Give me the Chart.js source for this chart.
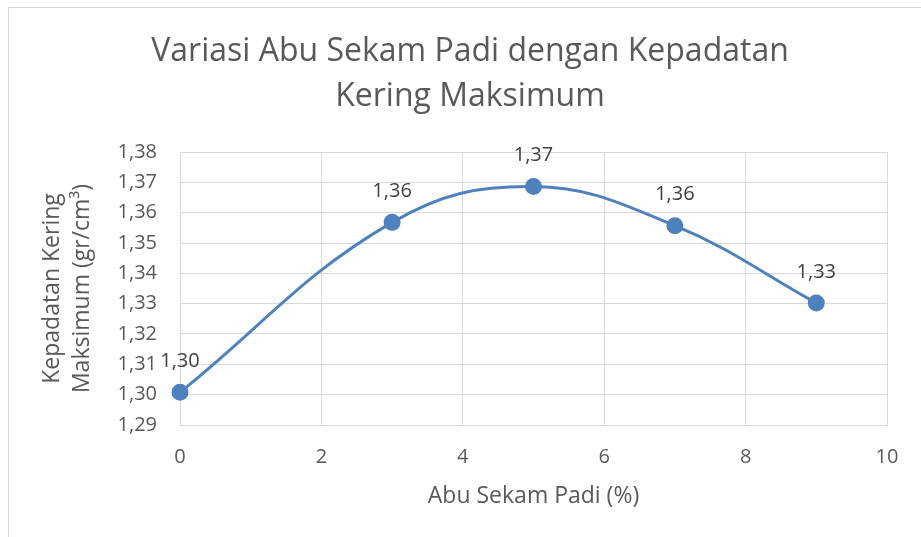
<!DOCTYPE html>
<html>
<head>
<meta charset="utf-8">
<script src="https://cdn.jsdelivr.net/npm/chart.js@4"></script>
<style>
  html, body { margin: 0; padding: 0; background: #fff; }
  #wrap { position: relative; width: 921px; height: 537px; overflow: hidden; }
  #frame { position: absolute; left: 8px; top: 7px; width: 1000px; height: 600px; border: 1px solid #d9d9d9; }
  canvas { position: absolute; left: 0; top: 0; }
</style>
</head>
<body>
<div id="wrap">
  <div id="frame"></div>
  <canvas id="chart" width="921" height="537"></canvas>
</div>
<script>
// data
const abuSekamPercent = [0, 3, 5, 7, 9];
const kepadatanKering = [1.3008, 1.3568, 1.3686, 1.3557, 1.3302];

const chartTitle = ['Variasi Abu Sekam Padi dengan Kepadatan', 'Kering Maksimum'];
const xTitle = 'Abu Sekam Padi (%)';
const yTitle = ['Kepadatan Kering', 'Maksimum (gr/cm³)'];

// comma as decimal separator
function fmt(v) {
    return v.toFixed(2).replace('.', ',');
}

// value labels above each point
const pointLabels = {
    id: 'pointLabels',
    afterDatasetsDraw(chart) {
        const ctx = chart.ctx;
        const meta = chart.getDatasetMeta(0);
        ctx.save();
        ctx.font = '20px "Open Sans"';
        ctx.fillStyle = '#404040';
        ctx.textAlign = 'center';
        ctx.textBaseline = 'middle';
        meta.data.forEach((pt, i) => {
            ctx.fillText(fmt(kepadatanKering[i]), pt.x, pt.y - 31);
        });
        ctx.restore();
    }
};

// chart title, centred on the whole picture like in the original
const titleDraw = {
    id: 'titleDraw',
    afterDraw(chart) {
        const ctx = chart.ctx;
        ctx.save();
        ctx.font = '32px "Open Sans"';
        ctx.fillStyle = '#595959';
        ctx.textAlign = 'center';
        ctx.textBaseline = 'middle';
        chartTitle.forEach((line, i) => {
            ctx.fillText(line, 470, 52 + i * 45);
        });
        ctx.restore();
    }
};

Chart.defaults.font.family = '"Open Sans", sans-serif';
Chart.defaults.color = '#595959';

const ctx = document.getElementById('chart').getContext('2d');
new Chart(ctx, {
    type: 'scatter',
    data: {
        datasets: [{
            data: abuSekamPercent.map((x, i) => ({ x: x, y: kepadatanKering[i] })),
            showLine: true,
            borderColor: '#4f81bd',
            backgroundColor: '#4f81bd',
            borderWidth: 3,
            pointRadius: 7,
            pointHoverRadius: 7,
            tension: 0.4,
            clip: false
        }]
    },
    options: {
        responsive: false,
        animation: false,
        layout: { padding: { left: 0, right: 34, top: 152, bottom: 0 } },
        plugins: {
            legend: { display: false },
            tooltip: { enabled: false },
            title: { display: false }
        },
        scales: {
            x: {
                type: 'linear',
                min: 0,
                max: 10,
                ticks: { stepSize: 2, padding: 20, font: { size: 20 }, color: '#595959' },
                grid: { color: '#d9d9d9', lineWidth: 1, drawTicks: false },
                border: { color: '#d9d9d9' },
                title: {
                    display: true,
                    text: xTitle,
                    color: '#595959',
                    font: { size: 23, lineHeight: 1.2 },
                    padding: { top: 0, bottom: 27 }
                },
                afterFit(scale) { scale.height = 112; }
            },
            y: {
                min: 1.29,
                max: 1.38,
                ticks: {
                    stepSize: 0.01,
                    padding: 23,
                    font: { size: 20 },
                    color: '#595959',
                    callback: (v) => fmt(v)
                },
                grid: { color: '#d9d9d9', lineWidth: 1, drawTicks: false },
                border: { color: '#d9d9d9' },
                title: {
                    display: true,
                    text: yTitle,
                    color: '#595959',
                    font: { size: 23, lineHeight: 1.3 },
                    padding: { top: 38, bottom: 0 }
                },
                afterFit(scale) { scale.width = 180; }
            }
        }
    },
    plugins: [pointLabels, titleDraw]
});
</script>
</body>
</html>
